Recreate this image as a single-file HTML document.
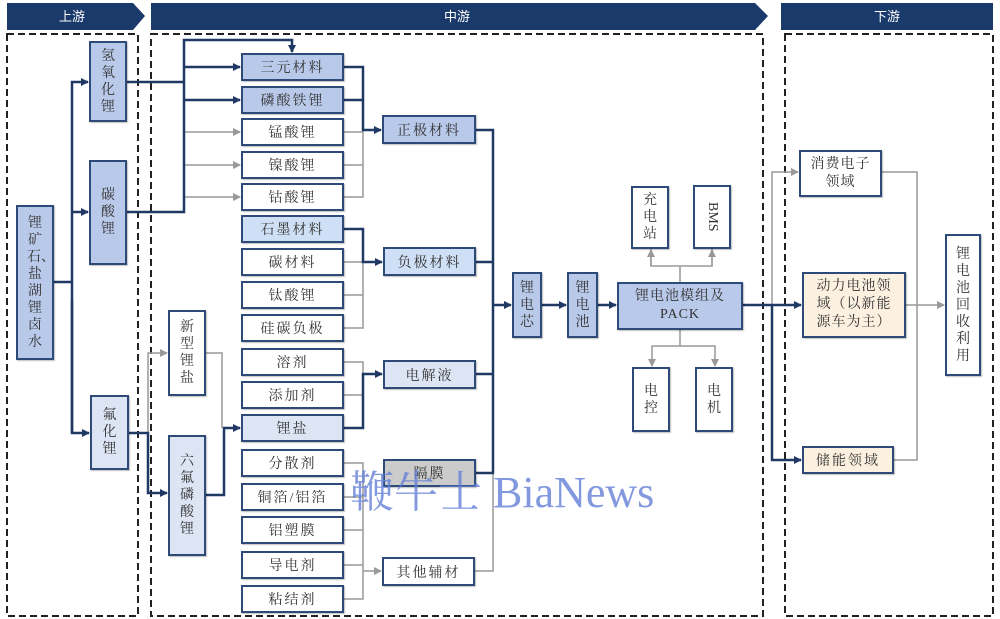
<!DOCTYPE html>
<html><head><meta charset="utf-8"><style>
body{margin:0;width:1000px;height:619px;background:#fff;position:relative;overflow:hidden;font-family:"Liberation Serif","Noto Serif CJK SC","Noto Sans CJK SC",serif;}
.b{position:absolute;box-sizing:border-box;border:2px solid #2d4a78;background:#fff;display:flex;align-items:center;justify-content:center;text-align:center;color:#333;font-size:14px;box-shadow:1px 1px 1px rgba(0,0,0,.25);letter-spacing:2px;}
.v{flex-direction:column;line-height:17px;letter-spacing:0}
.v span{display:block;width:16px;word-break:break-all;}
.blue{background:#b9c9e9}.lb{background:#cfe0f6}.pl{background:#dde5f4}.cr{background:#fcf1e0}.gr{background:#cbcbcb}
.hd{position:absolute;color:#fff;font-size:13px;top:3px;height:27px;line-height:27px;text-align:center;font-family:"Liberation Sans","Noto Sans CJK SC",sans-serif;}
</style></head><body>
<svg width="1000" height="619" style="position:absolute;left:0;top:0">
<defs>
<marker id="ad" markerWidth="8" markerHeight="8" refX="7" refY="4" orient="auto" markerUnits="userSpaceOnUse"><path d="M0,0 L8,4 L0,8z" fill="#1f3864"/></marker>
<marker id="ag" markerWidth="8" markerHeight="8" refX="7" refY="4" orient="auto" markerUnits="userSpaceOnUse"><path d="M0,0 L8,4 L0,8z" fill="#999"/></marker>
</defs>
<polygon points="7,3 133,3 145,16 133,30 7,30" fill="#1a3a6b"/>
<polygon points="151,3 755,3 768,16 755,30 151,30" fill="#1a3a6b"/>
<rect x="781" y="3" width="212" height="27" fill="#1a3a6b"/>
<g fill="none" stroke="#222" stroke-width="2" stroke-dasharray="7,4">
<rect x="7" y="34" width="131" height="582"/>
<rect x="151" y="34" width="612" height="582"/>
<rect x="785" y="34" width="208" height="582"/>
</g>
<g fill="none" stroke="#999" stroke-width="1.5">
<polyline points="184,132 240,132" marker-end="url(#ag)"/>
<polyline points="184,165 240,165" marker-end="url(#ag)"/>
<polyline points="184,197 240,197" marker-end="url(#ag)"/>
<polyline points="344,132 363,132"/><polyline points="344,165 363,165"/><polyline points="344,197 363,197 363,130"/>
<polyline points="344,262 363,262"/><polyline points="344,295 363,295"/><polyline points="344,328 363,328 363,262"/>
<polyline points="344,362 363,362 363,374"/><polyline points="344,395 363,395"/>
<polyline points="148,433 148,353 167,353" marker-end="url(#ag)"/>
<polyline points="206,353 222,353 222,428"/>
<polyline points="344,463 363,463 363,599 344,599"/><polyline points="344,497 363,497"/><polyline points="344,530 363,530"/><polyline points="344,565 363,565"/>
<polyline points="363,571 381,571" marker-end="url(#ag)"/>
<polyline points="475,571 493,571 493,473"/>
<polyline points="680,282 680,266"/><polyline points="651,248 651,266 712,266 712,248"/>
<polyline points="651,266 651,250" marker-end="url(#ag)"/><polyline points="712,266 712,250" marker-end="url(#ag)"/>
<polyline points="680,330 680,346 652,346 652,366" marker-end="url(#ag)"/><polyline points="680,346 715,346 715,366" marker-end="url(#ag)"/>
<polyline points="772,305 772,172 798,172" marker-end="url(#ag)"/>
<polyline points="882,172 917,172 917,460 894,460"/>
<polyline points="906,305 944,305" marker-end="url(#ag)"/>
</g>
<g fill="none" stroke="#1f3864" stroke-width="2.5">
<polyline points="54,282 72,282"/>
<polyline points="72,433 72,82 88,82" marker-end="url(#ad)"/>
<polyline points="72,212 88,212" marker-end="url(#ad)"/>
<polyline points="72,300 72,433 89,433" marker-end="url(#ad)"/>
<polyline points="127,82 184,82"/><polyline points="127,212 184,212 184,40 292,40 292,52" marker-end="url(#ad)"/>
<polyline points="184,67 240,67" marker-end="url(#ad)"/><polyline points="184,100 240,100" marker-end="url(#ad)"/>
<polyline points="344,67 363,67 363,130 381,130" marker-end="url(#ad)"/><polyline points="344,100 363,100"/>
<polyline points="344,229 363,229 363,262 382,262" marker-end="url(#ad)"/>
<polyline points="344,428 363,428 363,374 382,374" marker-end="url(#ad)"/>
<polyline points="129,433 148,433 148,493 167,493" marker-end="url(#ad)"/>
<polyline points="206,495 224,495 224,428 240,428" marker-end="url(#ad)"/>
<polyline points="476,130 493,130 493,473 476,473"/><polyline points="476,262 493,262"/><polyline points="476,374 493,374"/>
<polyline points="493,305 511,305" marker-end="url(#ad)"/>
<polyline points="542,305 566,305" marker-end="url(#ad)"/>
<polyline points="598,305 616,305" marker-end="url(#ad)"/>
<polyline points="743,305 801,305" marker-end="url(#ad)"/>
<polyline points="772,305 772,460 801,460" marker-end="url(#ad)"/>
</g>
</svg>
<div class="hd" style="left:7px;width:130px">上游</div>
<div class="hd" style="left:151px;width:612px">中游</div>
<div class="hd" style="left:781px;width:212px">下游</div>

<div class="b v blue" style="left:16px;top:205px;width:38px;height:155px"><span>锂矿石、盐湖锂卤水</span></div>
<div class="b v blue" style="left:89px;top:41px;width:38px;height:81px"><span>氢氧化锂</span></div>
<div class="b v blue" style="left:89px;top:160px;width:38px;height:105px"><span>碳酸锂</span></div>
<div class="b v pl" style="left:90px;top:395px;width:39px;height:75px"><span>氟化锂</span></div>
<div class="b v" style="left:168px;top:310px;width:38px;height:86px"><span>新型锂盐</span></div>
<div class="b v pl" style="left:168px;top:435px;width:38px;height:121px"><span>六氟磷酸锂</span></div>

<div class="b blue" style="left:241px;top:53px;width:103px;height:28px">三元材料</div>
<div class="b blue" style="left:241px;top:86px;width:103px;height:28px">磷酸铁锂</div>
<div class="b" style="left:241px;top:118px;width:103px;height:28px">锰酸锂</div>
<div class="b" style="left:241px;top:151px;width:103px;height:28px">镍酸锂</div>
<div class="b" style="left:241px;top:183px;width:103px;height:28px">钴酸锂</div>
<div class="b lb" style="left:241px;top:215px;width:103px;height:28px">石墨材料</div>
<div class="b" style="left:241px;top:248px;width:103px;height:28px">碳材料</div>
<div class="b" style="left:241px;top:281px;width:103px;height:28px">钛酸锂</div>
<div class="b" style="left:241px;top:314px;width:103px;height:28px">硅碳负极</div>
<div class="b" style="left:241px;top:348px;width:103px;height:28px">溶剂</div>
<div class="b" style="left:241px;top:381px;width:103px;height:28px">添加剂</div>
<div class="b pl" style="left:241px;top:414px;width:103px;height:28px">锂盐</div>
<div class="b" style="left:241px;top:449px;width:103px;height:28px">分散剂</div>
<div class="b" style="left:241px;top:483px;width:103px;height:28px">铜箔/铝箔</div>
<div class="b" style="left:241px;top:516px;width:103px;height:28px">铝塑膜</div>
<div class="b" style="left:241px;top:551px;width:103px;height:28px">导电剂</div>
<div class="b" style="left:241px;top:585px;width:103px;height:28px">粘结剂</div>

<div class="b blue" style="left:382px;top:115px;width:94px;height:29px">正极材料</div>
<div class="b lb" style="left:383px;top:247px;width:93px;height:29px">负极材料</div>
<div class="b pl" style="left:383px;top:360px;width:93px;height:29px">电解液</div>
<div class="b gr" style="left:383px;top:459px;width:93px;height:28px">隔膜</div>
<div class="b" style="left:382px;top:557px;width:93px;height:29px">其他辅材</div>

<div class="b v blue" style="left:512px;top:272px;width:30px;height:66px"><span>锂电芯</span></div>
<div class="b v blue" style="left:567px;top:272px;width:31px;height:66px"><span>锂电池</span></div>
<div class="b blue" style="left:617px;top:282px;width:126px;height:48px;line-height:18px;letter-spacing:1px">锂电池模组及<br>PACK</div>
<div class="b v" style="left:631px;top:186px;width:38px;height:63px"><span>充电站</span></div>
<div class="b" style="left:693px;top:185px;width:38px;height:64px;writing-mode:vertical-rl;letter-spacing:0">BMS</div>
<div class="b v" style="left:632px;top:367px;width:38px;height:65px"><span>电控</span></div>
<div class="b v" style="left:695px;top:367px;width:38px;height:65px"><span>电机</span></div>

<div class="b" style="left:799px;top:150px;width:83px;height:47px;line-height:18px;letter-spacing:1px">消费电子<br>领域</div>
<div class="b cr" style="left:802px;top:272px;width:104px;height:66px;line-height:18px;letter-spacing:1px">动力电池领<br>域（以新能<br>源车为主）</div>
<div class="b cr" style="left:802px;top:446px;width:92px;height:28px">储能领域</div>
<div class="b v" style="left:945px;top:234px;width:36px;height:142px"><span>锂电池回收利用</span></div>

<div style="position:absolute;left:350px;top:468px;font-size:44px;color:rgba(100,128,215,.8);font-family:'Liberation Serif','Noto Serif CJK SC',serif;white-space:nowrap;line-height:50px">鞭牛士 BiaNews</div>
</body></html>
